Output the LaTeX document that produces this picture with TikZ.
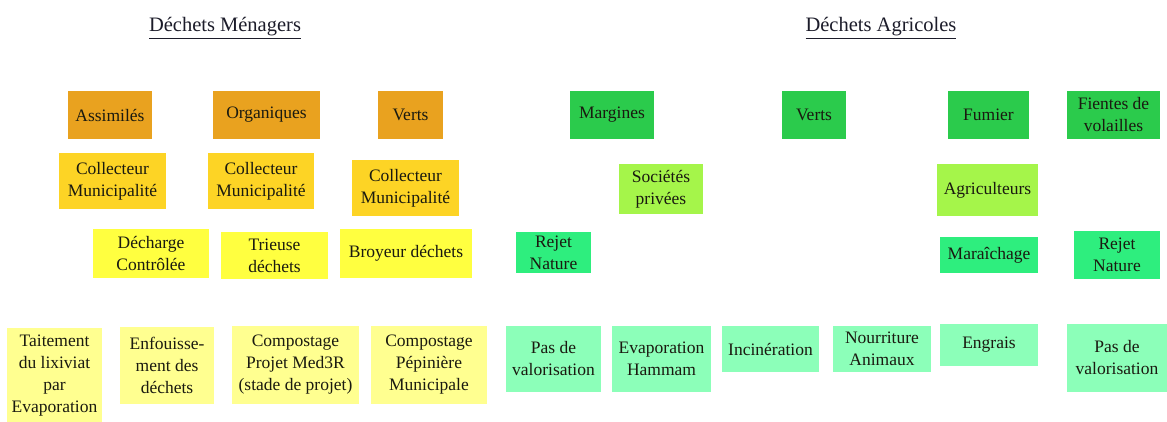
\documentclass[tikz,border=0pt]{standalone}
\usepackage{fontspec}
\setmainfont{Liberation Serif}
\usepackage{tikz}

\definecolor{orangeh}{HTML}{E9A21F}
\definecolor{goldc}{HTML}{FDD425}
\definecolor{yellowt}{HTML}{FFFF40}
\definecolor{yellowv}{HTML}{FFFF90}
\definecolor{greenh}{HTML}{2BCB4C}
\definecolor{limec}{HTML}{A5F54A}
\definecolor{springt}{HTML}{2EEE7E}
\definecolor{mintv}{HTML}{8CFFB9}
\definecolor{titlec}{HTML}{1C1C2A}
\definecolor{textc}{HTML}{1A1A10}

\tikzset{
	box/.style={rectangle, align=center, inner sep=1pt, text=textc, font=\fontsize{17.5}{22}\selectfont},
	title/.style={text=titlec, font=\fontsize{20.5}{24}\selectfont},
	menh/.style={box, fill=orangeh},
	menc/.style={box, fill=goldc},
	ment/.style={box, fill=yellowt},
	menv/.style={box, fill=yellowv},
	agrh/.style={box, fill=greenh},
	agrc/.style={box, fill=limec},
	agrt/.style={box, fill=springt},
	agrv/.style={box, fill=mintv},
	sz/.style 2 args={minimum width=#1, minimum height=#2}
}

\begin{document}
\begin{tikzpicture}[x=1pt, y=-1pt]
	\useasboundingbox[fill=white] (0,0) rectangle (1167,421);
	% titres
	\node[title] (tmen) at (225,28) {\underline{Déchets Ménagers}};
	\node[title] (tagr) at (881,28) {\underline{Déchets Agricoles}};
	% déchets ménagers
	\node[menh, sz={84}{48}] (assim) at (110,115) {Assimilés};
	\node[menh, sz={107}{48}] (organ) at (266.5,115) {Organiques};
	\node[menh, sz={65}{48}] (vertsm) at (410.5,115) {Verts};
	\node[menc, sz={107}{56}] (coll1) at (112.5,181) {Collecteur\\Municipalité};
	\node[menc, sz={106}{56}] (coll2) at (261,181) {Collecteur\\Municipalité};
	\node[menc, sz={107}{56}] (coll3) at (405.5,188) {Collecteur\\Municipalité};
	\node[ment, sz={116}{49}] (decharge) at (151,253.5) {Décharge\\Contrôlée};
	\node[ment, sz={107}{47}] (trieuse) at (274.5,255.5) {Trieuse\\déchets};
	\node[ment, sz={132}{49}] (broyeur) at (406,253.5) {Broyeur déchets};
	\node[menv, sz={95}{96}] (lixiviat) at (54.5,376) {Taitement\\du lixiviat\\par\\Evaporation};
	\node[menv, sz={94}{77}] (enfouis) at (167,365.5) {Enfouisse-\\ment des\\déchets};
	\node[menv, sz={127}{78}] (med3r) at (295.5,365) {Compostage\\Projet Med3R\\(stade de projet)};
	\node[menv, sz={116}{78}] (pepin) at (429,365) {Compostage\\Pépinière\\Municipale};
	% déchets agricoles
	\node[agrh, sz={84}{48}] (margines) at (612,115) {Margines};
	\node[agrh, sz={64}{48}] (vertsa) at (814,115) {Verts};
	\node[agrh, sz={81}{48}] (fumier) at (988.5,115) {Fumier};
	\node[agrh, sz={93}{48}] (fientes) at (1113.5,115) {Fientes de\\volailles};
	\node[agrc, sz={84}{50}] (societes) at (661,189) {Sociétés\\privées};
	\node[agrc, sz={101}{52}] (agricult) at (987.5,190) {Agriculteurs};
	\node[agrt, sz={75}{41}] (rejet1) at (553.5,252.5) {Rejet\\Nature};
	\node[agrt, sz={98}{36}] (maraich) at (989,255) {Maraîchage};
	\node[agrt, sz={86}{48}] (rejet2) at (1117,255) {Rejet\\Nature};
	\node[agrv, sz={95}{66}] (pasval1) at (553.5,359) {Pas de\\valorisation};
	\node[agrv, sz={99}{66}] (hammam) at (661.5,359) {Evaporation\\Hammam};
	\node[agrv, sz={97}{46}] (incin) at (770.5,349) {Incinération};
	\node[agrv, sz={98}{46}] (nourrit) at (882,349) {Nourriture\\Animaux};
	\node[agrv, sz={98}{42}] (engrais) at (989,345) {Engrais};
	\node[agrv, sz={100}{68}] (pasval2) at (1117,358) {Pas de\\valorisation};
\end{tikzpicture}
\end{document}
